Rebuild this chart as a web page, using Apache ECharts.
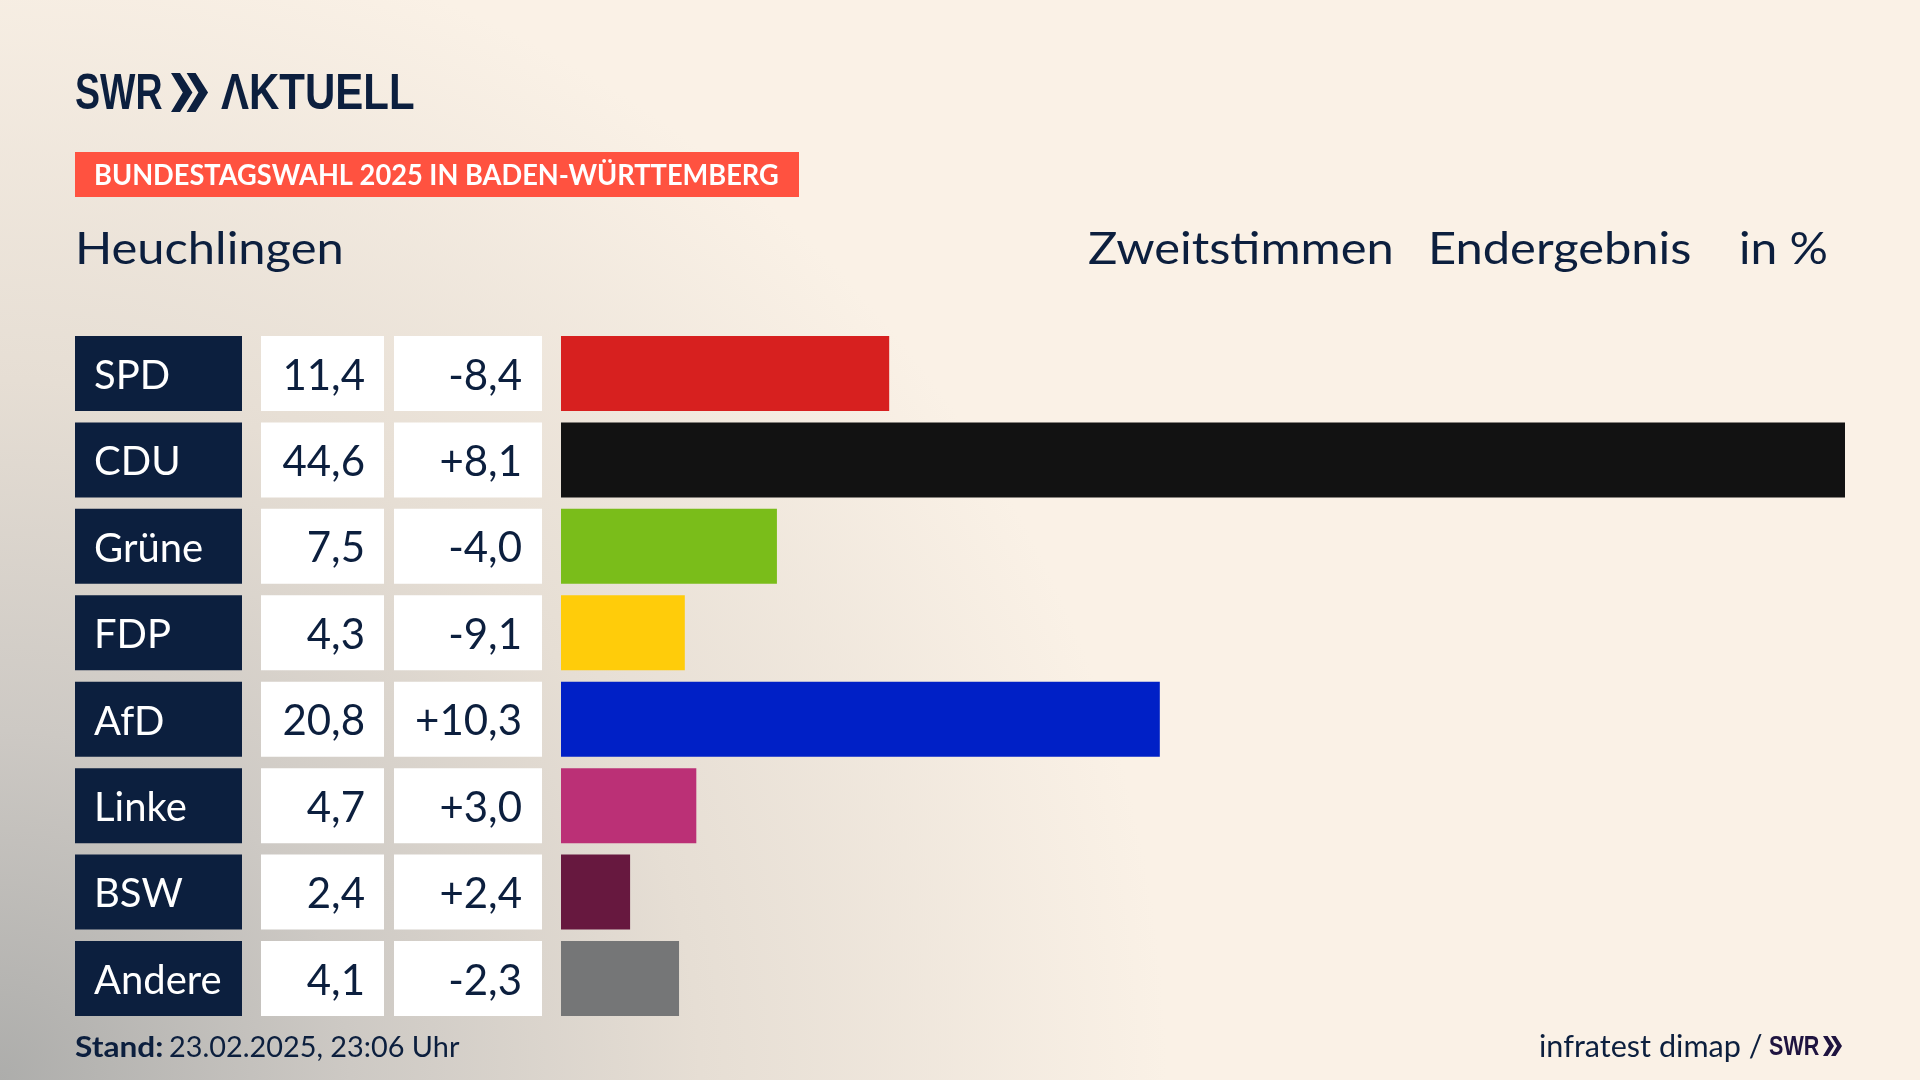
<!DOCTYPE html>
<html>
<head>
<meta charset="utf-8">
<title>Heuchlingen</title>
<script src="https://cdn.jsdelivr.net/npm/echarts@6/dist/echarts.min.js"></script>
<style>
html, body { margin: 0; padding: 0; background: #faf1e6; }
#main { width: 1920px; height: 1080px; }
</style>
</head>
<body>
<div id="main"></div>
<script>
var parteien = ['SPD', 'CDU', 'Grüne', 'FDP', 'AfD', 'Linke', 'BSW', 'Andere'];
var ergebnis = [11.4, 44.6, 7.5, 4.3, 20.8, 4.7, 2.4, 4.1];
var differenz = [-8.4, 8.1, -4.0, -9.1, 10.3, 3.0, 2.4, -2.3];
var farben = ['#d7201f', '#121212', '#7abd1a', '#ffcc0a', '#0020c6', '#bb3076', '#67183f', '#757677'];

var NAVY = '#0c1f3e';
var FONT = 'Lato, sans-serif';
var LOGO = '"Liberation Sans", sans-serif';

function komma(v) {
    return v.toFixed(1).replace('.', ',');
}
function mitVorzeichen(v) {
    return (v > 0 ? '+' : '') + komma(v);
}

function text(x, y, str, size, opts) {
    opts = opts || {};
    return {
        type: 'text',
        x: x,
        y: y,
        scaleX: opts.scaleX || 1,
        style: {
            text: str,
            fill: opts.fill || NAVY,
            font: (opts.weight || 'normal') + ' ' + size + 'px ' + (opts.family || FONT),
            verticalAlign: 'middle'
        }
    };
}

// die Doppelpfeile aus dem SWR Logo
function pfeile(x, y, h, fill) {
    var w = h * 0.55, gap = h * 0.4;
    return [0, 1].map(function (i) {
        var l = x + i * gap;
        return {
            type: 'polygon',
            shape: { points: [[l, y], [l + w * 0.42, y], [l + w, y + h / 2], [l + w * 0.42, y + h], [l, y + h], [l + w * 0.55, y + h / 2]] },
            style: { fill: fill }
        };
    });
}

var graphic = [
    { type: 'rect', shape: { x: 75, y: 152, width: 724, height: 45 }, style: { fill: '#ff5240' } },
    text(75, 95, 'SWR', 50, { weight: 'bold', family: LOGO, scaleX: 0.75 }),
    text(221, 95, 'ΛKTUELL', 50, { weight: 'bold', family: LOGO, scaleX: 0.84 }),
    text(94, 176, 'BUNDESTAGSWAHL 2025 IN BADEN-WÜRTTEMBERG', 28, { weight: 'bold', fill: '#fff', scaleX: 0.972 }),
    text(75, 250, 'Heuchlingen', 44, { scaleX: 1.11 }),
    text(1088, 250, 'Zweitstimmen', 44, { scaleX: 1.11 }),
    text(1428, 250, 'Endergebnis', 44, { scaleX: 1.11 }),
    text(1739, 250, 'in %', 44, { scaleX: 1.09 }),
    text(75, 1048, 'Stand:', 28, { weight: 'bold', scaleX: 1.13 }),
    text(169, 1048, '23.02.2025, 23:06 Uhr', 28, { scaleX: 1.03 }),
    text(1539, 1047, 'infratest dimap /', 30, { scaleX: 1.02 }),
    text(1769, 1047, 'SWR', 28, { weight: 'bold', family: LOGO, fill: '#1f1440', scaleX: 0.77 })
].concat(pfeile(171, 73, 39, NAVY), pfeile(1823, 1036, 20, '#1f1440'));

var myChart = echarts.init(document.getElementById('main'));

var option = {
    animation: false,
    backgroundColor: {
        type: 'radial', x: 0, y: 1, r: 1.08,
        colorStops: [
            { offset: 0, color: '#adadab' },
            { offset: 0.3, color: '#cdc9c4' },
            { offset: 0.6, color: '#e6ded4' },
            { offset: 1, color: '#faf1e6' }
        ]
    },
    grid: { left: 561, width: 1284, top: 330.3, height: 691.4 },
    xAxis: { type: 'value', min: 0, max: 44.6, show: false },
    yAxis: {
        type: 'category',
        inverse: true,
        data: parteien,
        axisLine: { show: false },
        axisTick: { show: false },
        axisLabel: {
            margin: 19,
            formatter: function (name, i) {
                return '{partei|' + name + '}{luecke1|}{wert|' + komma(ergebnis[i]) + '}{luecke2|}{diff|' + mitVorzeichen(differenz[i]) + '}';
            },
            rich: {
                partei: { width: 148, height: 70, padding: [5, 0, 0, 19], align: 'left', backgroundColor: NAVY, color: '#fff', fontFamily: FONT, fontSize: 40 },
                luecke1: { width: 19, height: 75, align: 'right' },
                wert: { width: 104, height: 70, padding: [5, 19, 0, 0], align: 'right', backgroundColor: '#fff', color: NAVY, fontFamily: FONT, fontSize: 42 },
                luecke2: { width: 10, height: 75, align: 'right' },
                diff: { width: 128, height: 70, padding: [5, 20, 0, 0], align: 'right', backgroundColor: '#fff', color: NAVY, fontFamily: FONT, fontSize: 42 }
            }
        }
    },
    series: [{
        type: 'bar',
        barWidth: 75,
        data: ergebnis.map(function (v, i) {
            return { value: v, itemStyle: { color: farben[i] } };
        })
    }],
    graphic: graphic
};

myChart.setOption(option);
</script>
</body>
</html>
